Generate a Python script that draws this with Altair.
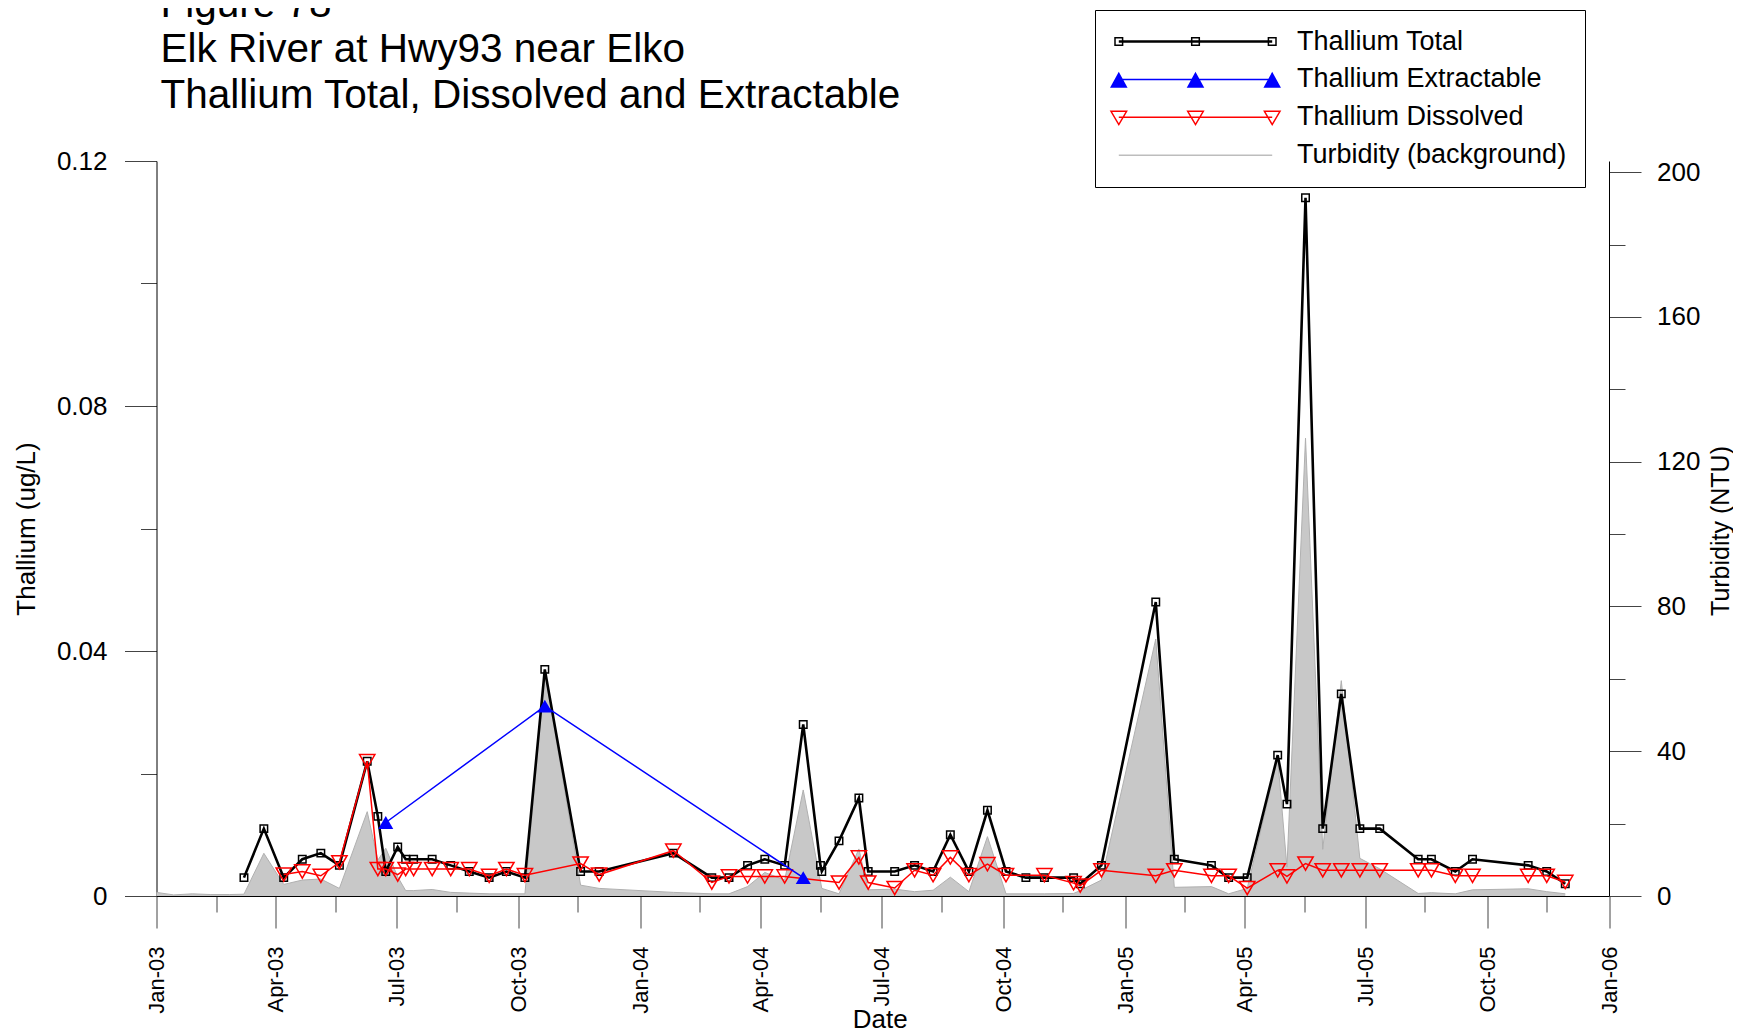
import altair as alt
import pandas as pd

FONT = "Liberation Sans"

# ---------------- data ----------------
title_lines = ["Figure 78", "Elk River at Hwy93 near Elko",
               "Thallium Total, Dissolved and Extractable"]

legend_names = ["Thallium Total", "Thallium Extractable",
                "Thallium Dissolved", "Turbidity (background)"]

total_dates = [
    "2003-03-08", "2003-03-23", "2003-04-07", "2003-04-21", "2003-05-05", "2003-05-19",
    "2003-06-09", "2003-06-17", "2003-06-23", "2003-07-02", "2003-07-08", "2003-07-14",
    "2003-07-28", "2003-08-11", "2003-08-25", "2003-09-09", "2003-09-22", "2003-10-06",
    "2003-10-21", "2003-11-17", "2003-12-01",
    "2004-01-26", "2004-02-24", "2004-03-08", "2004-03-22", "2004-04-04", "2004-04-19",
    "2004-05-03", "2004-05-16", "2004-05-17", "2004-05-30", "2004-06-14", "2004-06-21",
    "2004-07-11", "2004-07-26", "2004-08-09", "2004-08-22", "2004-09-05", "2004-09-19",
    "2004-10-03", "2004-10-18", "2004-11-01", "2004-11-23", "2004-11-28", "2004-12-14",
    "2005-01-24", "2005-02-07", "2005-03-07", "2005-03-20", "2005-04-03", "2005-04-26",
    "2005-05-03", "2005-05-17", "2005-05-30", "2005-06-13", "2005-06-27", "2005-07-12",
    "2005-08-10", "2005-08-20", "2005-09-07", "2005-09-20", "2005-11-01", "2005-11-15",
    "2005-11-29",
]
total_values = [
    0.003, 0.011, 0.003, 0.006, 0.007, 0.005, 0.022, 0.013, 0.004, 0.008, 0.006, 0.006,
    0.006, 0.005, 0.004, 0.003, 0.004, 0.003, 0.037, 0.004, 0.004,
    0.007, 0.003, 0.003, 0.005, 0.006, 0.005, 0.028, 0.005, 0.004, 0.009, 0.016, 0.004,
    0.004, 0.005, 0.004, 0.010, 0.004, 0.014, 0.004, 0.003, 0.003, 0.003, 0.002, 0.005,
    0.048, 0.006, 0.005, 0.003, 0.003, 0.023, 0.015, 0.114, 0.011, 0.033, 0.011, 0.011,
    0.006, 0.006, 0.004, 0.006, 0.005, 0.004, 0.002,
]

ext_dates = ["2003-06-23", "2003-10-21", "2004-05-03"]
ext_values = [0.012, 0.031, 0.003]

diss_dates = [
    "2003-04-07", "2003-04-21", "2003-05-05", "2003-05-19", "2003-06-09", "2003-06-17",
    "2003-06-23", "2003-07-02", "2003-07-08", "2003-07-14", "2003-07-28", "2003-08-11",
    "2003-08-25", "2003-09-09", "2003-09-22", "2003-10-06", "2003-11-17", "2003-12-01",
    "2004-01-26", "2004-02-24", "2004-03-08", "2004-03-22", "2004-04-04", "2004-04-19",
    "2004-05-30", "2004-06-14", "2004-06-21", "2004-07-11", "2004-07-26", "2004-08-09",
    "2004-08-22", "2004-09-05", "2004-09-19", "2004-10-03", "2004-11-01", "2004-11-23",
    "2004-11-28", "2004-12-14",
    "2005-01-24", "2005-02-07", "2005-03-07", "2005-03-20", "2005-04-03", "2005-04-26",
    "2005-05-03", "2005-05-17", "2005-05-30", "2005-06-13", "2005-06-27", "2005-07-12",
    "2005-08-10", "2005-08-20", "2005-09-07", "2005-09-20", "2005-11-01", "2005-11-15",
    "2005-11-29",
]
diss_values = [
    0.0035, 0.0040, 0.0033, 0.0055, 0.0220, 0.0044, 0.0044, 0.0035, 0.0044, 0.0044,
    0.0044, 0.0044, 0.0044, 0.0033, 0.0044, 0.0034, 0.0053, 0.0035,
    0.0074, 0.0022, 0.0032, 0.0032, 0.0032, 0.0032, 0.0022, 0.0063, 0.0022, 0.0013,
    0.0042, 0.0034, 0.0063, 0.0034, 0.0052, 0.0034, 0.0034, 0.0021, 0.0017, 0.0042,
    0.0033, 0.0042, 0.0033, 0.0033, 0.0013, 0.0042, 0.0032, 0.0053, 0.0042, 0.0042,
    0.0042, 0.0042, 0.0042, 0.0042, 0.0033, 0.0033, 0.0033, 0.0033, 0.0023,
]

turb_dates = [
    "2003-01-01", "2003-01-14", "2003-01-28", "2003-02-11", "2003-02-25",
    "2003-03-08", "2003-03-23", "2003-04-07", "2003-04-21", "2003-05-05", "2003-05-19",
    "2003-06-09", "2003-06-17", "2003-06-23", "2003-07-02", "2003-07-08", "2003-07-14",
    "2003-07-28", "2003-08-11", "2003-08-25", "2003-09-09", "2003-09-22", "2003-10-06",
    "2003-10-21", "2003-11-17", "2003-12-01",
    "2004-01-26", "2004-02-24", "2004-03-08", "2004-03-22", "2004-04-04", "2004-04-19",
    "2004-05-03", "2004-05-17", "2004-05-30", "2004-06-14", "2004-06-21", "2004-07-11",
    "2004-07-26", "2004-08-09", "2004-08-22", "2004-09-05", "2004-09-19", "2004-10-03",
    "2004-10-18", "2004-11-01", "2004-11-23", "2004-11-28", "2004-12-14",
    "2005-01-24", "2005-02-07", "2005-03-07", "2005-03-20", "2005-04-03", "2005-04-26",
    "2005-05-03", "2005-05-17", "2005-05-30", "2005-06-13", "2005-06-27", "2005-07-12",
    "2005-08-10", "2005-08-20", "2005-09-07", "2005-09-20", "2005-11-01", "2005-11-15",
    "2005-11-29",
]
turb_values = [
    1.0, 0.3, 0.6, 0.4, 0.4,
    0.5, 11.8, 3.2, 4.4, 4.7, 2.1, 23.3, 9.9, 13.2, 5.3, 1.5, 1.5,
    1.8, 1.0, 0.8, 0.6, 0.6, 0.6, 62.0, 3.0, 2.1,
    1.0, 0.6, 0.6, 2.6, 6.5, 4.4, 29.3, 2.1, 0.6, 13.0, 1.7, 1.9,
    1.2, 1.6, 5.2, 1.2, 16.4, 0.6, 0.6, 0.6, 0.7, 1.5, 4.4,
    71.0, 2.4, 2.6, 0.6, 2.1, 38.0, 8.0, 126.5, 12.9, 59.5, 10.4, 7.5,
    0.7, 0.9, 0.6, 1.7, 2.0, 1.2, 0.6,
]

left_ticks = [0, 0.02, 0.04, 0.06, 0.08, 0.10, 0.12]
right_ticks = [0, 20, 40, 60, 80, 100, 120, 140, 160, 180, 200]
x_tick_years = [2003, 2004, 2005]
x_tick_monthdays = [(1, 1), (2, 15), (4, 1), (5, 16), (7, 1), (8, 15), (10, 1), (11, 15)]

# ---------------- frames ----------------
total_df = pd.DataFrame({"date": total_dates, "value": total_values})
ext_df = pd.DataFrame({"date": ext_dates, "value": ext_values})
diss_df = pd.DataFrame({"date": diss_dates, "value": diss_values})
turb_df = pd.DataFrame({"date": turb_dates, "turbidity": turb_values})
legend_df = pd.DataFrame({"series": legend_names})

# ---------------- legend symbols (line + three markers) ----------------
MX = [-76.7, 0.0, 76.7]


def n(v):
    return f"{v:.2f}".rstrip("0").rstrip(".")


def line_path(dy=0.0):
    return f"M{n(MX[0])},{n(dy)}H{n(MX[-1])}"


total_sym = line_path(-0.45) + line_path(0.45) + "".join(
    f"M{n(c - 3.8)},-3.8h7.6v7.6h-7.6Z" for c in MX)
ext_sym = line_path() + "".join(
    f"M{n(c)},{n(3.09 - 9.09 * f)}L{n(c + 7.5 * f)},{n(3.09 + 4.41 * f)}"
    f"L{n(c - 7.5 * f)},{n(3.09 + 4.41 * f)}Z"
    for c in MX for f in (1.0, 0.72, 0.44, 0.16))
diss_sym = line_path() + "".join(
    f"M{n(c - 7.8)},-6L{n(c + 7.8)},-6L{n(c)},7.3Z" for c in MX)
turb_sym = line_path()

# ---------------- scales / axes ----------------
PLOT_W, PLOT_H = 1452.5, 735

x_values = [alt.DateTime(year=y, month=m, date=d, utc=True)
            for y in x_tick_years for (m, d) in x_tick_monthdays]
x_values.append(alt.DateTime(year=2006, month=1, date=1, utc=True))

x_scale = alt.Scale(type="utc", domain=[alt.DateTime(year=2003, month=1, date=1, utc=True),
                                         alt.DateTime(year=2006, month=1, date=1, utc=True)])

x_axis = alt.Axis(
    values=x_values,
    labelExpr="utcmonth(datum.value) % 3 == 0 ? utcFormat(datum.value, '%b-%y') : ''",
    labelAngle=270, labelFontSize=22, labelFont=FONT, labelColor="black",
    labelPadding=18, labelOverlap=False, labelFlush=False,
    tickSize={"condition": {"test": "utcmonth(datum.value) % 3 == 0", "value": 32}, "value": 16},
    tickColor="#444444", domainColor="black", grid=False,
    title="Date", titleFontSize=26, titleFont=FONT, titleFontWeight="normal",
    titleColor="black", titleX=PLOT_W / 2 - 3, titleY=123,
    titleBaseline="middle", titleAlign="center",
)

y_left_axis = alt.Axis(
    orient="left", values=left_ticks,
    labelExpr="round(datum.value * 100) % 4 == 0 ? (datum.value == 0 ? '0' : format(datum.value, '.2f')) : ''",
    labelFontSize=26, labelFont=FONT, labelColor="black", labelPadding=17.5,
    labelOverlap=False, labelFlush=False,
    tickSize={"condition": {"test": "round(datum.value * 100) % 4 == 0", "value": 32}, "value": 16},
    tickColor="#444444", domainColor="black", grid=False,
    title="Thallium (ug/L)", titleFontSize=26, titleFont=FONT, titleFontWeight="normal",
    titleColor="black", titleAngle=270, titleX=-130, titleY=PLOT_H / 2,
    titleBaseline="middle", titleAlign="center",
)

y_right_axis = alt.Axis(
    orient="right", values=right_ticks,
    labelExpr="datum.value % 40 == 0 ? datum.label : ''",
    labelFontSize=26, labelFont=FONT, labelColor="black", labelPadding=15.6,
    labelOverlap=False, labelFlush=False,
    tickSize={"condition": {"test": "datum.value % 40 == 0", "value": 32}, "value": 16},
    tickColor="#444444", domainColor="black", grid=False,
    title="Turbidity  (NTU)", titleFontSize=25, titleFont=FONT, titleFontWeight="normal",
    titleColor="black", titleAngle=270, titleX=111, titleY=PLOT_H / 2 + 2,
    titleBaseline="middle", titleAlign="center",
)

X = alt.X("date:T", scale=x_scale, axis=x_axis)
Y = alt.Y("value:Q", scale=alt.Scale(domain=[0, 0.12], nice=False), axis=y_left_axis)

# ---------------- layers ----------------
turb_area = alt.Chart(turb_df).mark_area(
    color="#c8c8c8", opacity=1, line={"color": "#b0b0b0", "strokeWidth": 1}
).encode(
    x=X,
    y=alt.Y("turbidity:Q", scale=alt.Scale(domain=[0, 203.07], nice=False), axis=y_right_axis),
)

total_line = alt.Chart(total_df).mark_line(color="black", strokeWidth=2.6).encode(x=X, y=Y)
total_pts = alt.Chart(total_df).mark_point(
    shape="square", size=56, filled=False, color="black", strokeWidth=1.5, opacity=1
).encode(x=X, y=Y)

diss_line = alt.Chart(diss_df).mark_line(color="#ff0000", strokeWidth=1.5).encode(x=X, y=Y)
diss_pts = alt.Chart(diss_df).mark_point(
    shape="triangle-down", size=235, filled=False, color="#ff0000", strokeWidth=1.5, opacity=1
).encode(x=X, y=Y)

ext_line = alt.Chart(ext_df).mark_line(color="#0000ff", strokeWidth=1.5).encode(x=X, y=Y)
ext_pts = alt.Chart(ext_df).mark_point(
    shape="triangle-up", size=225, filled=True, color="#0000ff", opacity=1
).encode(x=X, y=Y)

legend = alt.Legend(
    orient="none", legendX=938.5, legendY=-151, title=None,
    padding=18, rowPadding=9.9, symbolOffset=69, labelOffset=88,
    labelFontSize=27, labelFont=FONT, labelColor="black", labelLimit=400,
    symbolSize=4, symbolStrokeWidth=1.5, strokeColor="black", fillColor="white",
)

legend_carrier = alt.Chart(legend_df).mark_point(
    filled=False, size=4, strokeWidth=1.5, opacity=1
).encode(
    color=alt.Color("series:N", scale=alt.Scale(domain=legend_names,
                                                range=["black", "#0000ff", "#ff0000", "#bdbdbd"]),
                    legend=legend),
    shape=alt.Shape("series:N", scale=alt.Scale(domain=legend_names,
                                                range=[total_sym, ext_sym, diss_sym, turb_sym]),
                    legend=legend),
).transform_filter("false")

thallium = alt.layer(total_line, total_pts, diss_line, diss_pts, ext_line, ext_pts,
                     legend_carrier)

chart = alt.layer(turb_area, thallium).resolve_scale(y="independent").properties(
    width=PLOT_W, height=PLOT_H,
    autosize=alt.AutoSizeParams(type="none"),
    padding={"left": 148.5, "top": 153, "right": 124, "bottom": 132},
    title=alt.TitleParams(
        text=title_lines, anchor="start", frame="group", fontSize=40.5, font=FONT,
        fontWeight="normal", color="black", lineHeight=45.5, baseline="top",
        offset=-106.5, dx=4,
    ),
).configure(font=FONT).configure_view(strokeWidth=0)

chart.save("out.html", embed_options={"renderer": "svg", "actions": False})
